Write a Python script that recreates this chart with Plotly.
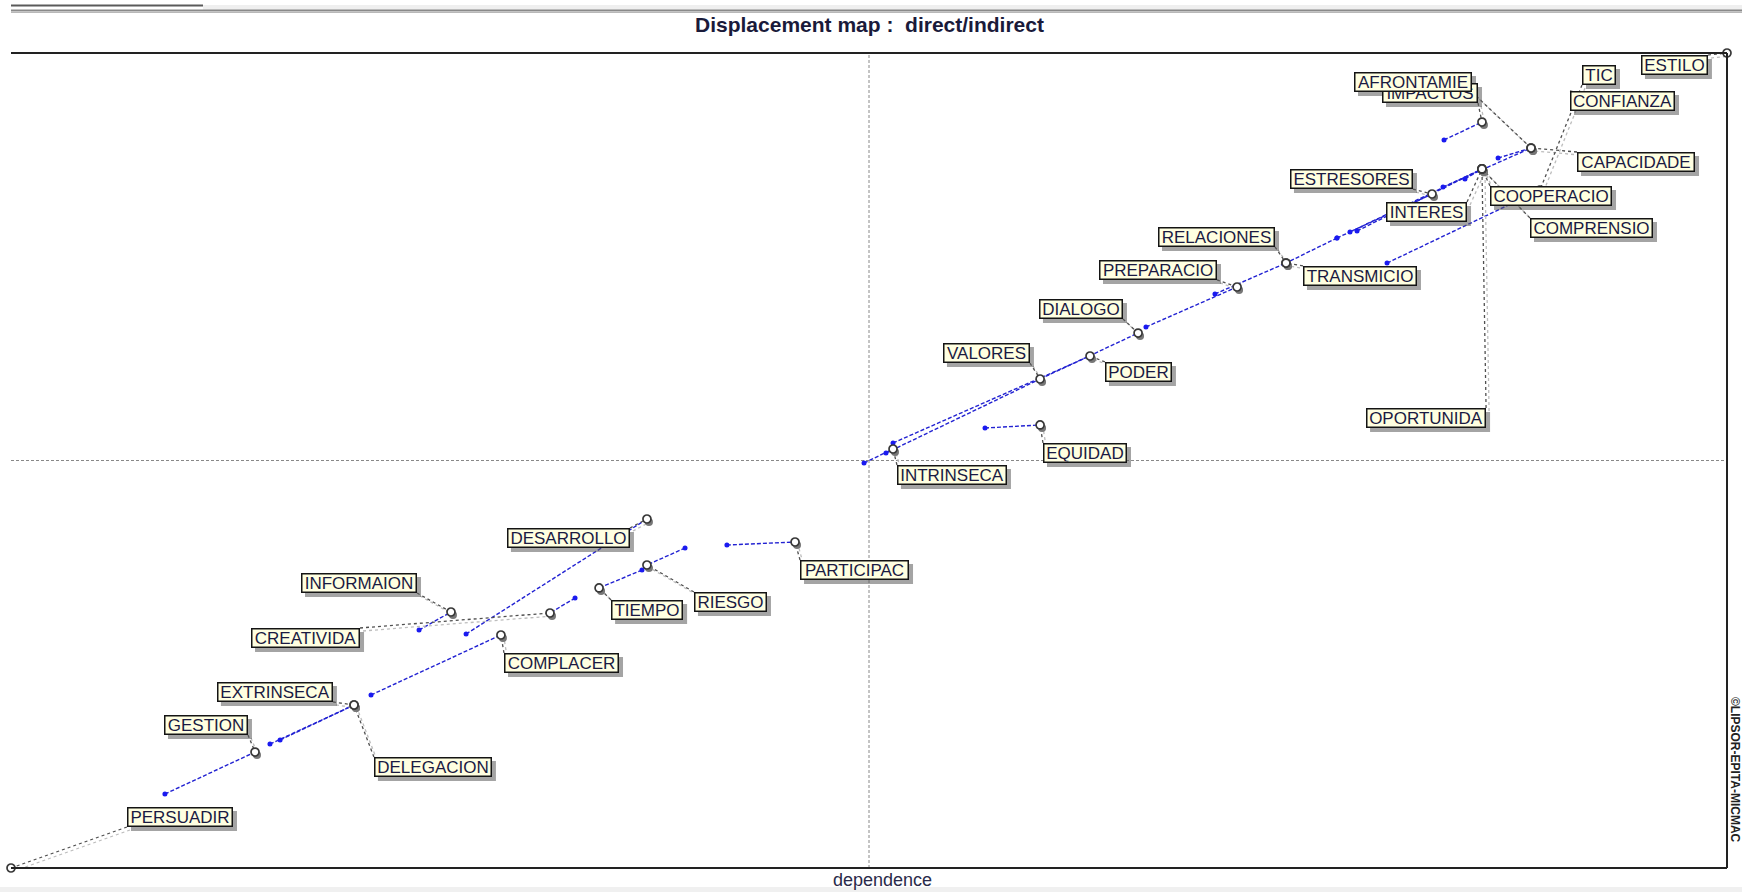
import plotly.graph_objects as go

# ---- variables: direct (blue dot) and indirect (circle) positions ----
names = ["ESTILO", "IMPACTOS", "AFRONTAMIE", "TIC", "CONFIANZA", "CAPACIDADE",
         "COOPERACIO", "COMPRENSIO", "ESTRESORES", "INTERES", "OPORTUNIDA",
         "RELACIONES", "TRANSMICIO", "PREPARACIO", "DIALOGO", "PODER", "VALORES",
         "EQUIDAD", "INTRINSECA", "PARTICIPAC", "DESARROLLO", "RIESGO", "TIEMPO",
         "INFORMAION", "CREATIVIDA", "COMPLACER", "EXTRINSECA", "DELEGACION",
         "GESTION", "PERSUADIR"]

direct_dep = [100.0, 83.51, 86.66, 80.19, 94.35, 83.45,
              84.73, 78.44, 77.27, 78.03, 85.72,
              70.16, 77.27, 66.14, 59.97, 51.40, 50.99,
              56.76, 49.71, 41.72, 26.52, 39.28, 36.77,
              23.78, 32.87, 20.98, 15.09, 15.68,
              8.97, 0.0]
direct_inf = [100.0, 89.33, 87.12, 74.23, 93.99, 83.56,
              84.54, 78.16, 77.30, 78.04, 85.77,
              70.43, 77.30, 66.38, 60.00, 52.15, 50.92,
              53.99, 49.69, 39.63, 28.71, 39.26, 36.56,
              29.20, 33.13, 21.23, 15.21, 15.71,
              9.08, 0.0]
indirect_dep = [100.0, 85.72, 88.58, 89.10, 94.35, 88.58,
                85.72, 85.72, 82.81, 85.72, 85.72,
                74.30, 74.30, 71.45, 65.68, 62.88, 59.97,
                59.97, 51.40, 45.69, 37.06, 37.06, 34.27,
                25.64, 31.41, 28.55, 19.99, 19.99,
                14.22, 0.0]
indirect_inf = [100.0, 91.53, 88.34, 83.19, 93.99, 88.34,
                85.77, 85.77, 82.70, 85.77, 85.77,
                74.23, 74.23, 71.29, 65.64, 62.82, 60.00,
                54.36, 51.41, 40.00, 42.82, 37.18, 34.36,
                31.41, 31.29, 28.59, 20.00, 20.00,
                14.23, 0.0]

# ---- label placement: anchor point (axis units) and which box corner sits there ----
label_place = {
    "ESTILO": (98.89, 99.75, "right", "top"),
    "IMPACTOS": (85.49, 93.87, "right", "bottom"),
    "AFRONTAMIE": (85.14, 95.21, "right", "bottom"),
    "TIC": (91.55, 96.07, "left", "bottom"),
    "CONFIANZA": (90.85, 95.34, "left", "top"),
    "CAPACIDADE": (91.26, 87.85, "left", "top"),
    "COOPERACIO": (86.19, 83.68, "left", "top"),
    "COMPRENSIO": (88.52, 79.75, "left", "top"),
    "ESTRESORES": (81.70, 83.31, "right", "bottom"),
    "INTERES": (84.85, 81.72, "right", "top"),
    "OPORTUNIDA": (85.96, 56.44, "right", "top"),
    "RELACIONES": (73.66, 76.20, "right", "bottom"),
    "TRANSMICIO": (75.29, 73.87, "left", "top"),
    "PREPARACIO": (70.28, 72.15, "right", "bottom"),
    "DIALOGO": (64.80, 67.36, "right", "bottom"),
    "PODER": (63.75, 62.09, "left", "top"),
    "VALORES": (59.38, 61.96, "right", "bottom"),
    "EQUIDAD": (60.14, 52.15, "left", "top"),
    "INTRINSECA": (51.63, 49.45, "left", "top"),
    "PARTICIPAC": (45.98, 37.79, "left", "top"),
    "DESARROLLO": (36.07, 41.72, "right", "top"),
    "RIESGO": (39.80, 33.87, "left", "top"),
    "TIEMPO": (34.97, 32.88, "left", "top"),
    "INFORMAION": (23.66, 33.74, "right", "bottom"),
    "CREATIVIDA": (20.34, 29.45, "right", "top"),
    "COMPLACER": (28.73, 26.38, "left", "top"),
    "EXTRINSECA": (18.76, 20.37, "right", "bottom"),
    "DELEGACION": (21.15, 13.62, "left", "top"),
    "GESTION": (13.81, 16.32, "right", "bottom"),
    "PERSUADIR": (6.76, 5.03, "left", "bottom"),
}

# ---- page geometry ----
W, H = 1742, 892
ML, MR, MT, MB = 11, 15, 53, 24
PW, PH = W - ML - MR, H - MT - MB
PX_X = 100.0 / PW      # one pixel in axis units
PX_Y = 100.0 / PH


def paper_x(px):
    return (px - ML) / PW


def paper_y(py):
    return (H - MB - py) / PH


FONT = "Liberation Sans, Arial, sans-serif"
LABEL_SIZE = 17
BLUE = "#2222d2"

# Arial advance widths (em) for capital letters, used to size the label boxes
CAP_W = dict(A=.667, B=.667, C=.722, D=.722, E=.667, F=.611, G=.778, H=.722,
             I=.278, J=.5, K=.667, L=.556, M=.833, N=.722, O=.778, P=.667,
             Q=.778, R=.722, S=.667, T=.611, U=.722, V=.667, W=.944, X=.667,
             Y=.667, Z=.611)
BORDER = 1.5
BOX_H = 17          # inner height; outer = BOX_H + 2*BORDER


def box_inner_width(text):
    return round(sum(CAP_W.get(c, .6) for c in text) * LABEL_SIZE + 4)


fig = go.Figure()

# displacement segments direct -> indirect
sx, sy = [], []
for dx, dy, ix, iy in zip(direct_dep, direct_inf, indirect_dep, indirect_inf):
    sx += [dx, ix, None]
    sy += [dy, iy, None]
fig.add_trace(go.Scatter(x=sx, y=sy, mode="lines",
                         line=dict(color=BLUE, width=1.4, dash="4px,2px"),
                         hoverinfo="skip"))
fig.add_trace(go.Scatter(x=direct_dep, y=direct_inf, mode="markers",
                         marker=dict(size=5, color="#1a1af0"),
                         cliponaxis=False, hoverinfo="skip"))

# leader lines from label boxes to indirect positions (with a pale shadow)
lx, ly, shx, shy = [], [], [], []
for n, ix, iy in zip(names, indirect_dep, indirect_inf):
    ax, ay, _, _ = label_place[n]
    lx += [ax, ix, None]
    ly += [ay, iy, None]
    shx += [ax + 3 * PX_X, ix + 3 * PX_X, None]
    shy += [ay - 3 * PX_Y, iy - 3 * PX_Y, None]
fig.add_trace(go.Scatter(x=shx, y=shy, mode="lines",
                         line=dict(color="#bdbdbd", width=1.3, dash="dot"),
                         hoverinfo="skip"))
fig.add_trace(go.Scatter(x=lx, y=ly, mode="lines",
                         line=dict(color="#505050", width=1.3, dash="dot"),
                         hoverinfo="skip"))

# indirect positions: open circles with a drop shadow
fig.add_trace(go.Scatter(x=[v + 2 * PX_X for v in indirect_dep],
                         y=[v - 3 * PX_Y for v in indirect_inf], mode="markers",
                         marker=dict(size=8, color="#777777"),
                         cliponaxis=False, hoverinfo="skip"))
fig.add_trace(go.Scatter(x=indirect_dep, y=indirect_inf, mode="markers",
                         marker=dict(size=8, color="white",
                                     line=dict(color="#383838", width=1.7)),
                         cliponaxis=False, hoverinfo="skip"))

annotations = []
shapes = []
for n in names:
    ax, ay, xa, ya = label_place[n]
    inner_w = box_inner_width(n)
    outer_w = inner_w + 2 * BORDER
    outer_h = BOX_H + 2 * BORDER
    left = 0 if xa == "left" else -outer_w
    top = 0 if ya == "top" else outer_h          # pixel offsets, up is positive
    shapes.append(dict(type="rect", xref="x", yref="y",
                       xsizemode="pixel", ysizemode="pixel",
                       xanchor=ax, yanchor=ay,
                       x0=left + 4, x1=left + outer_w + 4,
                       y0=top - outer_h - 4, y1=top - 4,
                       fillcolor="rgba(90,90,90,0.55)", line=dict(width=0),
                       layer="above"))
    annotations.append(dict(x=ax, y=ay, xref="x", yref="y", xanchor=xa, yanchor=ya,
                            showarrow=False, text=n, align="center",
                            width=inner_w, height=BOX_H, valign="middle",
                            borderpad=0, borderwidth=BORDER,
                            font=dict(family=FONT, size=LABEL_SIZE, color="#1a1a42"),
                            bgcolor="#ffffe1", bordercolor="#141414"))

# title, axis caption, copyright
annotations.append(dict(x=0.5, y=paper_y(25), xref="paper", yref="paper",
                        text="<b>Displacement map :&nbsp; direct/indirect</b>",
                        showarrow=False, xanchor="center", yanchor="middle",
                        font=dict(family=FONT, size=21, color="#1a1a3a")))
annotations.append(dict(x=paper_x(882), y=paper_y(880), xref="paper", yref="paper",
                        text="dependence", showarrow=False,
                        xanchor="center", yanchor="middle",
                        font=dict(family=FONT, size=18, color="#2a2a4a")))
annotations.append(dict(x=paper_x(1735), y=paper_y(770), xref="paper", yref="paper",
                        text="<b>©LIPSOR-EPITA-MICMAC</b>", showarrow=False,
                        textangle=90, xanchor="center", yanchor="middle",
                        font=dict(family=FONT, size=12, color="#222222")))

shapes += [
    # quadrant separators
    dict(type="line", xref="x", yref="y", x0=50, x1=50, y0=0, y1=100,
         line=dict(color="#888888", width=1, dash="3px,2px"), layer="below"),
    dict(type="line", xref="x", yref="y", x0=0, x1=100, y0=50, y1=50,
         line=dict(color="#888888", width=1, dash="3px,2px"), layer="below"),
    # frame: top, right, bottom
    dict(type="line", xref="paper", yref="paper", x0=0, x1=1, y0=1, y1=1,
         line=dict(color="#222222", width=2)),
    dict(type="line", xref="paper", yref="paper", x0=1, x1=1, y0=0, y1=1,
         line=dict(color="#222222", width=2)),
    dict(type="line", xref="paper", yref="paper", x0=0, x1=1, y0=0, y1=0,
         line=dict(color="#222222", width=2)),
    # window strip above the chart
    dict(type="rect", xref="paper", yref="paper", x0=paper_x(203), x1=paper_x(W),
         y0=paper_y(10), y1=paper_y(5), fillcolor="#efefef", line=dict(width=0)),
    dict(type="line", xref="paper", yref="paper", x0=paper_x(ML), x1=paper_x(203),
         y0=paper_y(5.5), y1=paper_y(5.5), line=dict(color="#5a5a5a", width=2)),
    dict(type="line", xref="paper", yref="paper", x0=paper_x(ML), x1=paper_x(W),
         y0=paper_y(10.5), y1=paper_y(10.5), line=dict(color="#8a8a8a", width=2)),
    dict(type="line", xref="paper", yref="paper", x0=paper_x(ML), x1=paper_x(W),
         y0=paper_y(12.5), y1=paper_y(12.5), line=dict(color="#b8b8b8", width=1)),
    # strip below the chart
    dict(type="rect", xref="paper", yref="paper", x0=paper_x(0), x1=paper_x(W),
         y0=paper_y(H), y1=paper_y(887), fillcolor="#f0f0f0", line=dict(width=0)),
]

fig.update_layout(
    width=W, height=H,
    margin=dict(l=ML, r=MR, t=MT, b=MB, pad=0),
    paper_bgcolor="white", plot_bgcolor="white",
    showlegend=False,
    xaxis=dict(range=[0, 100], visible=False, fixedrange=True),
    yaxis=dict(range=[0, 100], visible=False, fixedrange=True),
    annotations=annotations,
    shapes=shapes,
)

fig.write_html("out.html")
